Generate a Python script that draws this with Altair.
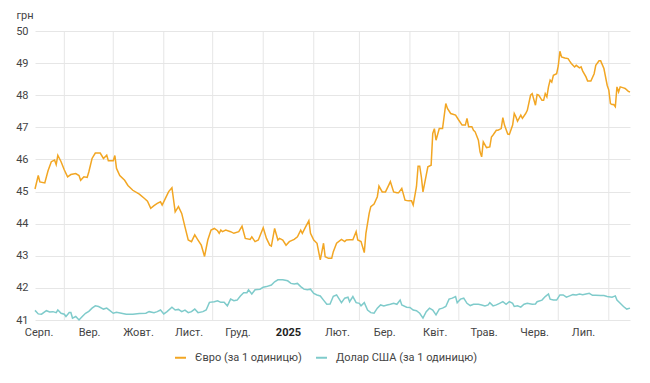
import altair as alt
import pandas as pd

START = "2024-08-14"
series_names = ["Євро (за 1 одиницю)", "Долар США (за 1 одиницю)"]
series_colors = ["#F2A623", "#7FCBCB"]

eur_days = [0, 2, 3, 6, 8, 10, 12, 13, 14, 16, 18, 20, 22, 25, 27, 28, 30, 32, 33, 35, 37, 40, 42, 44, 45, 48, 49, 50, 52, 55, 57, 60, 64, 67, 69, 71, 73, 75, 77, 78, 80, 82, 84, 86, 88, 90, 92, 94, 96, 98, 100, 102, 104, 106, 108, 110, 112, 113, 114, 115, 117, 120, 122, 125, 127, 129, 132, 133, 135, 137, 140, 142, 144, 145, 147, 149, 150, 152, 154, 156, 159, 161, 163, 164, 166, 168, 169, 171, 173, 175, 177, 178, 180, 182, 183, 185, 188, 190, 191, 193, 195, 197, 198, 200, 202, 203, 205, 206, 208, 210, 211, 213, 215, 217, 218, 220, 222, 223, 225, 227, 229, 231, 232, 234, 235, 236, 237, 238, 240, 241, 243, 244, 245, 246, 248, 250, 252, 253, 255, 258, 260, 262, 264, 265, 266, 268, 269, 270, 272, 273, 274, 275, 277, 279, 280, 281, 283, 284, 286, 287, 288, 290, 291, 293, 294, 295, 296, 298, 299, 301, 302, 304, 305, 307, 308, 309, 311, 312, 313, 314, 315, 316, 317, 318, 320, 321, 322, 323, 325, 327, 328, 329, 331, 332, 334, 335, 336, 338, 339, 341, 343, 344, 346, 347, 349, 351, 352, 353, 354, 355, 356, 357, 358, 359, 361, 362, 364, 365]
eur_vals = [45.08, 45.5, 45.3, 45.27, 45.65, 45.93, 45.98, 45.84, 46.13, 45.93, 45.67, 45.46, 45.53, 45.56, 45.5, 45.35, 45.46, 45.44, 45.61, 46.03, 46.2, 46.2, 46.03, 46.13, 45.96, 45.96, 46.12, 45.72, 45.5, 45.35, 45.19, 45.04, 44.92, 44.79, 44.7, 44.48, 44.56, 44.63, 44.68, 44.58, 44.79, 45.0, 45.12, 44.37, 44.53, 44.32, 43.9, 43.49, 43.44, 43.65, 43.49, 43.33, 42.98, 43.49, 43.8, 43.85, 43.78, 43.7, 43.8, 43.75, 43.8, 43.75, 43.7, 43.75, 43.92, 43.54, 43.51, 43.59, 43.44, 43.49, 43.87, 43.54, 43.33, 43.3, 43.85, 43.49, 43.54, 43.49, 43.33, 43.44, 43.51, 43.59, 43.8, 43.7, 43.9, 44.09, 43.7, 43.49, 43.39, 42.87, 43.39, 42.97, 42.92, 42.92, 43.13, 43.39, 43.51, 43.44, 43.49, 43.5, 43.5, 43.75, 43.49, 43.44, 43.1, 43.7, 44.32, 44.53, 44.61, 44.84, 45.17, 44.99, 44.99, 45.2, 45.31, 44.99, 44.96, 44.96, 45.1, 44.73, 44.71, 44.71, 44.58, 45.15, 45.79, 45.79, 45.46, 44.99, 45.51, 45.77, 45.82, 46.81, 46.96, 46.6, 46.96, 46.96, 47.74, 47.59, 47.43, 47.38, 47.22, 47.07, 47.07, 47.28, 47.02, 47.02, 46.91, 46.86, 46.6, 46.24, 46.08, 46.55, 46.37, 46.39, 46.7, 46.76, 46.91, 46.91, 46.96, 47.3, 47.07, 46.79, 46.78, 47.07, 47.43, 47.33, 47.19, 47.38, 47.28, 47.43, 47.53, 48.0, 48.05, 47.69, 48.02, 48.0, 47.84, 47.84, 48.05, 47.95, 48.26, 48.47, 48.41, 48.62, 48.67, 48.91, 49.37, 49.19, 49.16, 49.14, 49.06, 48.99, 48.88, 48.93, 48.85, 48.88, 48.75, 48.57, 48.44, 48.44, 48.67, 48.93, 49.07, 49.07, 48.83, 48.31, 48.16, 47.74, 47.71, 47.71, 47.64, 48.26, 48.1, 48.26, 48.23, 48.21, 48.12, 48.1]

usd_days = [0, 2, 4, 7, 9, 11, 13, 14, 16, 18, 19, 21, 22, 23, 25, 27, 29, 31, 33, 35, 37, 39, 42, 44, 46, 48, 50, 53, 56, 60, 64, 68, 70, 73, 75, 77, 79, 81, 84, 86, 88, 90, 92, 94, 96, 98, 100, 103, 105, 107, 110, 112, 114, 116, 118, 120, 122, 124, 126, 128, 130, 131, 133, 135, 138, 140, 142, 145, 147, 149, 152, 155, 157, 159, 161, 163, 165, 167, 169, 171, 173, 175, 177, 179, 181, 183, 185, 188, 190, 192, 193, 195, 197, 199, 200, 202, 204, 206, 208, 210, 212, 214, 216, 218, 220, 222, 224, 225, 228, 230, 232, 234, 236, 238, 240, 242, 244, 246, 248, 250, 252, 254, 256, 258, 259, 261, 263, 265, 267, 269, 272, 274, 276, 278, 279, 281, 283, 285, 287, 289, 291, 293, 294, 296, 298, 300, 302, 305, 307, 308, 311, 313, 315, 316, 318, 320, 322, 324, 326, 328, 330, 332, 334, 336, 338, 340, 342, 344, 347, 349, 351, 354, 356, 357, 359, 361, 363, 365]
usd_vals = [41.3, 41.19, 41.18, 41.29, 41.25, 41.26, 41.23, 41.31, 41.21, 41.18, 41.11, 41.23, 41.23, 41.06, 41.11, 41.0, 41.11, 41.21, 41.27, 41.37, 41.44, 41.42, 41.34, 41.37, 41.29, 41.21, 41.24, 41.21, 41.18, 41.18, 41.2, 41.21, 41.26, 41.23, 41.26, 41.31, 41.19, 41.26, 41.4, 41.31, 41.33, 41.26, 41.31, 41.23, 41.26, 41.34, 41.23, 41.26, 41.31, 41.55, 41.57, 41.6, 41.55, 41.55, 41.44, 41.65, 41.6, 41.62, 41.75, 41.85, 41.85, 41.94, 41.81, 41.94, 41.96, 42.02, 42.04, 42.09, 42.19, 42.25, 42.25, 42.22, 42.14, 42.12, 42.14, 42.04, 41.96, 41.94, 41.96, 41.83, 41.78, 41.75, 41.62, 41.49, 41.5, 41.74, 41.78, 41.54, 41.68, 41.71, 41.57, 41.73, 41.54, 41.52, 41.44, 41.54, 41.31, 41.23, 41.21, 41.37, 41.47, 41.44, 41.47, 41.49, 41.52, 41.49, 41.62, 41.47, 41.4, 41.39, 41.31, 41.29, 41.21, 41.06, 41.26, 41.37, 41.31, 41.16, 41.34, 41.37, 41.42, 41.65, 41.68, 41.73, 41.54, 41.65, 41.68, 41.52, 41.45, 41.49, 41.49, 41.47, 41.44, 41.47, 41.54, 41.44, 41.47, 41.52, 41.57, 41.49, 41.57, 41.52, 41.42, 41.44, 41.4, 41.49, 41.52, 41.49, 41.5, 41.57, 41.62, 41.73, 41.81, 41.65, 41.62, 41.62, 41.78, 41.78, 41.71, 41.75, 41.79, 41.78, 41.81, 41.79, 41.81, 41.83, 41.77, 41.77, 41.76, 41.76, 41.73, 41.71, 41.75, 41.62, 41.52, 41.42, 41.34, 41.37, 41.4]

month_starts = ["2024-09-01", "2024-10-01", "2024-11-01", "2024-12-01", "2025-01-01",
                "2025-02-01", "2025-03-01", "2025-04-01", "2025-05-01", "2025-06-01",
                "2025-07-01", "2025-08-01"]
label_dates = ["2024-08-16", "2024-09-16", "2024-10-16", "2024-11-16", "2024-12-16",
               "2025-01-16", "2025-02-15", "2025-03-16", "2025-04-16", "2025-05-16",
               "2025-06-16", "2025-07-16"]
month_names = ["Січ.", "Лют.", "Бер.", "Квіт.", "Трав.", "Черв.", "Лип.",
               "Серп.", "Вер.", "Жовт.", "Лист.", "Груд."]
y_ticks = [41, 42, 43, 44, 45, 46, 47, 48, 49, 50]

start = pd.Timestamp(START)
rows = []
for name, days, vals in [(series_names[0], eur_days, eur_vals), (series_names[1], usd_days, usd_vals)]:
    for d, v in zip(days, vals):
        rows.append({"date": (start + pd.Timedelta(days=d)).strftime("%Y-%m-%dT%H:%M:%S"),
                     "value": v, "series": name})
df = pd.DataFrame(rows)
grid_df = pd.DataFrame({"gdate": [s + "T00:00:00" for s in month_starts]})
lab_df = pd.DataFrame({"ldate": [s + "T12:00:00" for s in label_dates]})

FONT = "Roboto"
TXT = "#444444"
GRID = "#e6e6e6"

names_js = "[" + ",".join("'%s'" % n for n in month_names) + "]"
label_expr = "month(datum.ldate) == 0 ? timeFormat(datum.ldate, '%Y') : " + names_js + "[month(datum.ldate)]"

xscale = alt.Scale(nice=False)

grid = alt.Chart(grid_df).mark_rule(color=GRID, strokeWidth=1).encode(
    x=alt.X("gdate:T", scale=xscale, axis=None)
)

# month labels drawn as text below the plot, positioned by the shared time scale
lab_base = alt.Chart(lab_df).transform_calculate(
    lab=label_expr,
    isyear="month(datum.ldate) == 0 ? 1 : 0",
)
labels_norm = lab_base.transform_filter("datum.isyear == 0").mark_text(
    font=FONT, fontSize=11, baseline="middle", align="center", color=TXT
).encode(
    x=alt.X("ldate:T", scale=xscale, axis=None),
    y=alt.value(302),
    text="lab:N",
)
labels_year = lab_base.transform_filter("datum.isyear == 1").mark_text(
    font=FONT, fontSize=11, baseline="middle", align="center", color="#222222", fontWeight="bold"
).encode(
    x=alt.X("ldate:T", scale=xscale, axis=None),
    y=alt.value(302),
    text="lab:N",
)

lines = alt.Chart(df).mark_line(strokeWidth=1.5).encode(
    x=alt.X("date:T", scale=xscale, axis=None),
    y=alt.Y("value:Q", scale=alt.Scale(domain=[41, 50], nice=False, zero=False),
            axis=alt.Axis(values=y_ticks, grid=True, gridColor=GRID, ticks=False, domain=False,
                          labelPadding=7, labelFontSize=11, labelFont=FONT, labelColor=TXT,
                          title="грн", titleAngle=0, titleAlign="left", titleBaseline="middle",
                          titleX=-19, titleY=-16, titleFont=FONT, titleFontSize=11,
                          titleFontWeight="normal", titleColor=TXT)),
    color=alt.Color("series:N", sort=series_names,
                    scale=alt.Scale(domain=series_names, range=series_colors),
                    legend=alt.Legend(title=None, orient="none", direction="horizontal",
                                      legendX=139, legendY=320, symbolType="stroke",
                                      symbolSize=120, symbolStrokeWidth=2, labelFont=FONT,
                                      labelFontSize=11, labelColor=TXT, columnPadding=10,
                                      labelOffset=8)),
    order="date:T",
)

chart = alt.layer(grid, lines, labels_norm, labels_year).properties(
    width=595, height=289,
    autosize=alt.AutoSizeParams(type="none"),
    padding={"left": 27, "top": 23, "right": 12, "bottom": 55},
).configure_view(stroke=None)

chart.save("out.html", embed_options={"renderer": "svg", "actions": False})
